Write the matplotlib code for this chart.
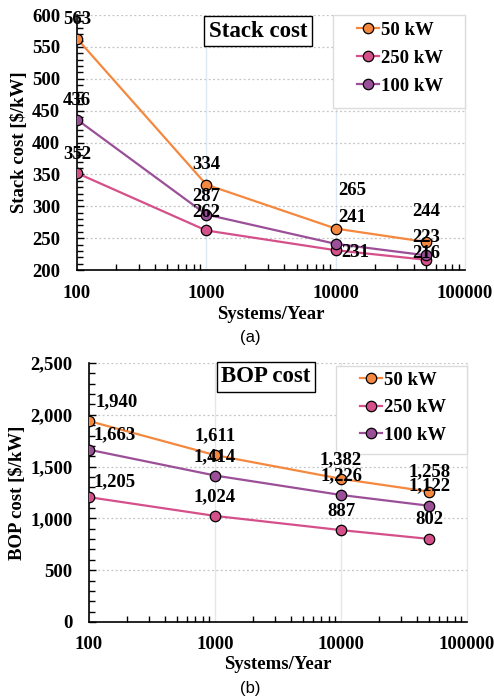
import matplotlib
matplotlib.use("Agg")
import matplotlib.pyplot as plt
from matplotlib.patches import Rectangle
from matplotlib.ticker import FixedLocator, MultipleLocator, FuncFormatter, NullFormatter

# ---- data ----
systems = [100, 1000, 10000, 50000]
series_names = ["50 kW", "250 kW", "100 kW"]

stack_50 = [563, 334, 265, 244]
stack_250 = [352, 262, 231, 216]
stack_100 = [436, 287, 241, 223]

bop_50 = [1940, 1611, 1382, 1258]
bop_250 = [1205, 1024, 887, 802]
bop_100 = [1663, 1414, 1226, 1122]

colors = ["#f5883f", "#d5508a", "#9b4f98"]

# label offsets in pixels (dx, dy) for each series / point
stack_offsets = [
    [(0, 19), (0, 20), (17, 38), (0, 30)],
    [(0, 19), (0, 18), (20, -2), (0, 6)],
    [(0, 19), (0, 18), (17, 26), (0, 18)],
]
bop_offsets = [
    [(28, 19), (0, 19), (0, 19), (0, 20)],
    [(26, 15), (0, 19), (0, 19), (0, 19)],
    [(26, 15), (0, 19), (0, 19), (0, 20)],
]

SERIF = "Liberation Serif"
FS = 13.5
plt.rcParams["font.family"] = SERIF
plt.rcParams["font.weight"] = "bold"

fig = plt.figure(figsize=(4.94, 6.97), dpi=100)
ax1 = fig.add_axes([77 / 494, 1 - 270 / 697, 388 / 494, 255 / 697])
ax2 = fig.add_axes([89 / 494, 1 - 622 / 697, 378 / 494, 259 / 697])


def style_axis(ax, ylim, major, minor, fmt, label, xpad, ypad, xlpad, ylpad):
    ax.set_xscale("log")
    ax.set_xlim(100, 100000)
    ax.set_ylim(*ylim)
    ax.xaxis.set_major_locator(FixedLocator([100, 1000, 10000, 100000]))
    ax.xaxis.set_major_formatter(FuncFormatter(lambda v, p: f"{int(round(v))}"))
    ax.xaxis.set_minor_formatter(NullFormatter())
    ax.yaxis.set_major_locator(MultipleLocator(major))
    ax.yaxis.set_minor_locator(MultipleLocator(minor))
    ax.yaxis.set_major_formatter(FuncFormatter(fmt))
    ax.tick_params(axis="both", which="both", direction="in", color="black")
    ax.tick_params(axis="both", which="major", length=5, width=1, labelsize=FS)
    ax.tick_params(axis="both", which="minor", length=4, width=1)
    ax.tick_params(axis="x", which="major", pad=xpad, length=0)
    ax.tick_params(axis="y", which="major", pad=ypad)
    for s in ("top", "right"):
        ax.spines[s].set_visible(False)
    for s in ("left", "bottom"):
        ax.spines[s].set_linewidth(1.2)
    ax.grid(axis="y", which="major", linestyle=(0, (1.5, 2)), color="#c4c4c4", linewidth=0.9)
    ax.grid(axis="x", which="major", linestyle="-", color="#dce8f4", linewidth=1.0)
    for gl in ax.get_xgridlines():
        gl.set_clip_on(False)
    ax.set_axisbelow(True)
    ax.set_ylabel(label, fontsize=FS, fontweight="bold", labelpad=ylpad)
    ax.set_xlabel("Systems/Year", fontsize=FS, fontweight="bold", labelpad=xlpad)
    for lbl in ax.get_xticklabels() + ax.get_yticklabels():
        lbl.set_fontweight("bold")


def draw_series(ax, data, offsets, fmt, box, anchor, spacing):
    handles = []
    for vals, name, col, offs in zip(data, series_names, colors, offsets):
        (h,) = ax.plot(systems, vals, "-o", color=col, linewidth=1.6,
                       markersize=7.5, markeredgecolor="black",
                       markeredgewidth=0.9, label=name, zorder=3)
        handles.append(h)
        for x, v, (dx, dy) in zip(systems, vals, offs):
            ax.annotate(fmt(v), (x, v), xytext=(dx, dy), textcoords="offset pixels",
                        ha="center", va="center", fontsize=FS,
                        fontweight="bold", color="black", zorder=5)
    # legend frame
    ax.add_patch(Rectangle((box[0], box[1]), box[2], box[3], transform=ax.transAxes,
                           facecolor="white", edgecolor="#dcdcdc", linewidth=1.0,
                           zorder=4, clip_on=False))
    leg = ax.legend(handles=handles, loc="upper left", bbox_to_anchor=anchor,
                    prop={"family": SERIF, "weight": "bold", "size": FS},
                    handlelength=1.15, handletextpad=0.15, labelspacing=spacing,
                    borderpad=0.0, borderaxespad=0.0, frameon=False)
    leg.set_zorder(5)
    return leg


# ---- (a) stack cost ----
style_axis(ax1, (200, 600), 50, 10, lambda v, p: f"{int(v)}",
           "Stack cost [$/kW]", 11, 12, 3, 3)
draw_series(ax1, [stack_50, stack_250, stack_100], stack_offsets,
            lambda v: f"{v}", (0.660, 0.635, 0.340, 0.365), (0.7216, 0.9745), 0.59)
ax1.text(0.466, 0.937, "Stack cost", transform=ax1.transAxes, ha="center",
         va="center", fontsize=16.5, fontweight="bold",
         bbox=dict(boxstyle="square,pad=0.2", facecolor="white",
                   edgecolor="black", linewidth=1.0), zorder=6)

# ---- (b) BOP cost ----
style_axis(ax2, (0, 2500), 500, 100, lambda v, p: f"{int(v):,}",
           "BOP cost [$/kW]", 10, 12, 2, 3)
draw_series(ax2, [bop_50, bop_250, bop_100], bop_offsets,
            lambda v: f"{v:,}", (0.653, 0.649, 0.347, 0.339), (0.717, 0.967), 0.55)
ax2.text(0.468, 0.946, "BOP cost", transform=ax2.transAxes, ha="center",
         va="center", fontsize=16.5, fontweight="bold",
         bbox=dict(boxstyle="square,pad=0.2", facecolor="white",
                   edgecolor="black", linewidth=1.0), zorder=6)

# panel captions
fig.text(250 / 494, 1 - 338 / 697, "(a)", ha="center", va="center",
         fontsize=12, fontweight="normal", family="Liberation Sans")
fig.text(250 / 494, 1 - 688 / 697, "(b)", ha="center", va="center",
         fontsize=12, fontweight="normal", family="Liberation Sans")

fig.savefig("out.png", dpi=100, facecolor="white")
